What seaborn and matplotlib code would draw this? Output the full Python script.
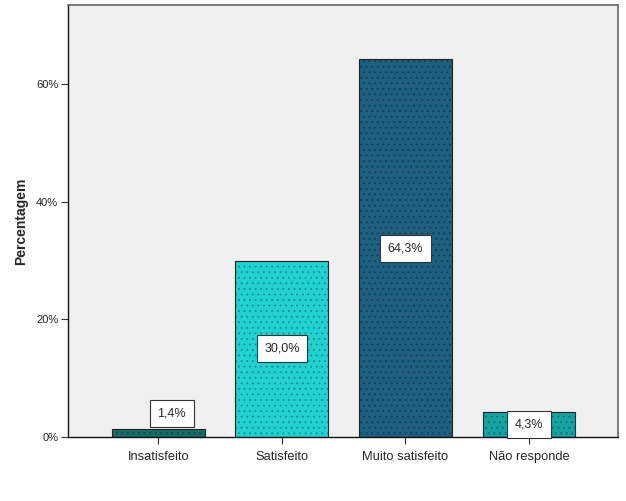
import matplotlib
matplotlib.use("Agg")
import matplotlib.pyplot as plt
import seaborn as sns
import pandas as pd

categories = ["Insatisfeito", "Satisfeito", "Muito satisfeito", "Não responde"]
values = [1.4, 30.0, 64.3, 4.3]
labels = ["1,4%", "30,0%", "64,3%", "4,3%"]
colors = ["#176b6b", "#22d2d2", "#1d6080", "#17a3a3"]
hatch_colors = ["#0b4444", "#119494", "#123f55", "#0c6f6f"]
yticks = [0, 20, 40, 60]
yticklabels = ["0%", "20%", "40%", "60%"]

sns.set_style("white")
plt.rcParams["font.family"] = ["Liberation Sans", "DejaVu Sans"]
plt.rcParams["hatch.linewidth"] = 0.7

df = pd.DataFrame({"cat": categories, "val": values})

fig = plt.figure(figsize=(6.26, 5.01), dpi=100)
ax = fig.add_axes([68 / 626, 1 - 437 / 501, (618 - 68) / 626, (437 - 5) / 501])
ax.set_facecolor("#f0f0f0")

sns.barplot(data=df, x="cat", y="val", hue="cat", palette=colors, width=0.75,
            saturation=1, legend=False, ax=ax, edgecolor="#222222", linewidth=0.8)

for p, hc in zip(ax.patches, hatch_colors):
    p.set_hatch("...")
    p._hatch_color = matplotlib.colors.to_rgba(hc)

box = dict(boxstyle="square,pad=0.6", fc="white", ec="#333333", lw=0.8)
for i, (v, lab) in enumerate(zip(values, labels)):
    if v < 3:
        ax.text(i + 0.11, v + 1.6, lab, ha="center", va="bottom", fontsize=9, bbox=box)
    else:
        ax.text(i, v / 2, lab, ha="center", va="center", fontsize=9, bbox=box)

ax.set_xlim(-0.73, 3.72)
ax.set_ylim(0, 73.5)
ax.set_yticks(yticks)
ax.set_yticklabels(yticklabels, fontsize=8, color="#222222")
ax.tick_params(axis="x", labelsize=9.3, length=5, width=0.8, color="#333333", direction="out", bottom=True, pad=5)
ax.tick_params(axis="y", length=5, width=0.8, color="#333333", direction="out", left=True, pad=2)
ax.set_xlabel("")
ax.set_ylabel("Percentagem", fontsize=10, fontweight="bold")
ax.yaxis.set_label_coords(-(68 - 28) / 550, 0.5)

for s in ["left", "bottom"]:
    ax.spines[s].set_color("#111111")
    ax.spines[s].set_linewidth(1.0)
for s in ["top", "right"]:
    ax.spines[s].set_color("#666666")
    ax.spines[s].set_linewidth(1.2)

fig.savefig("out.png", dpi=100)
